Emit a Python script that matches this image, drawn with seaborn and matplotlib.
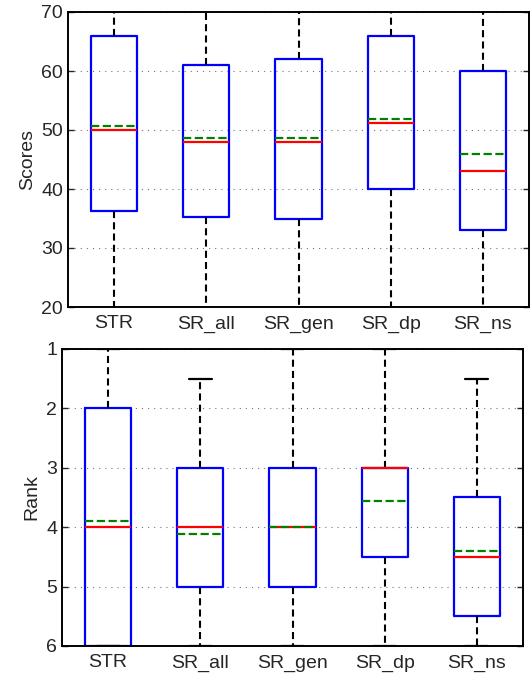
import numpy as np
import matplotlib
matplotlib.use("Agg")
import matplotlib.pyplot as plt
import seaborn as sns

sns.set_style("ticks")
plt.rcParams['font.family'] = ['Liberation Sans', 'DejaVu Sans']

methods = ["STR", "SR_all", "SR_gen", "SR_dp", "SR_ns"]

# Scores (whiskers run past the axis limits)
score_lo = [15, 14, 13, 16, 12]
score_q1 = [36.3, 35.3, 35.0, 40.0, 33.0]
score_med = [50.0, 48.0, 48.0, 51.2, 43.0]
score_mean = [50.7, 48.7, 48.7, 51.8, 46.0]
score_q3 = [66.0, 61.0, 62.0, 66.0, 60.0]
score_hi = [75, 74, 74, 76, 73]

# Rank
rank_lo = [1.0, 1.5, 1.0, 1.0, 1.5]
rank_q1 = [2.0, 3.0, 3.0, 3.0, 3.5]
rank_med = [4.0, 4.0, 4.0, 3.0, 4.5]
rank_mean = [3.89, 4.12, 4.0, 3.56, 4.40]
rank_q3 = [6.0, 5.0, 5.0, 4.5, 5.5]
rank_hi = [6.0, 6.0, 6.0, 6.0, 6.0]


def make_stats(lo, q1, med, mean, q3, hi):
    stats = []
    for i in range(len(methods)):
        stats.append(dict(label=methods[i], whislo=lo[i], q1=q1[i], med=med[i],
                          mean=mean[i], q3=q3[i], whishi=hi[i], fliers=[]))
    return stats


def draw(ax, stats):
    ax.bxp(stats, positions=np.arange(1, len(methods) + 1), widths=0.5,
           showmeans=True, meanline=True, showfliers=False, capwidths=0.25,
           boxprops=dict(color="#0000FF", lw=1.6),
           medianprops=dict(color="#FF0000", lw=1.6),
           meanprops=dict(color="#008000", ls="--", lw=1.6),
           whiskerprops=dict(color="black", ls=(0, (3.4, 2)), lw=1.5),
           capprops=dict(color="black", lw=1.6))
    ax.set_xlim(0.5, len(methods) + 0.5)
    ax.yaxis.grid(True, ls=(0, (1, 4.5)), color="#777777", lw=0.8)
    ax.xaxis.grid(False)
    ax.tick_params(axis="both", direction="in", labelsize=14, length=4,
                   right=True, top=False, width=1)
    ax.tick_params(axis="x", length=0, pad=6)
    for s in ax.spines.values():
        s.set_linewidth(1.4)
        s.set_color("black")


fig = plt.figure(figsize=(5.31, 6.8), dpi=100)
ax1 = fig.add_axes([68 / 531, 1 - 307 / 680, 461 / 531, 295 / 680])
ax2 = fig.add_axes([62 / 531, 1 - 646 / 680, 461 / 531, 297 / 680])

draw(ax1, make_stats(score_lo, score_q1, score_med, score_mean, score_q3, score_hi))
ax1.set_ylim(20, 70)
ax1.set_yticks([20, 30, 40, 50, 60, 70])
ax1.set_ylabel("Scores", fontsize=14)

draw(ax2, make_stats(rank_lo, rank_q1, rank_med, rank_mean, rank_q3, rank_hi))
ax2.set_ylim(6, 1)
ax2.set_yticks([1, 2, 3, 4, 5, 6])
ax2.set_ylabel("Rank", fontsize=14)

fig.savefig("out.png", dpi=100)
